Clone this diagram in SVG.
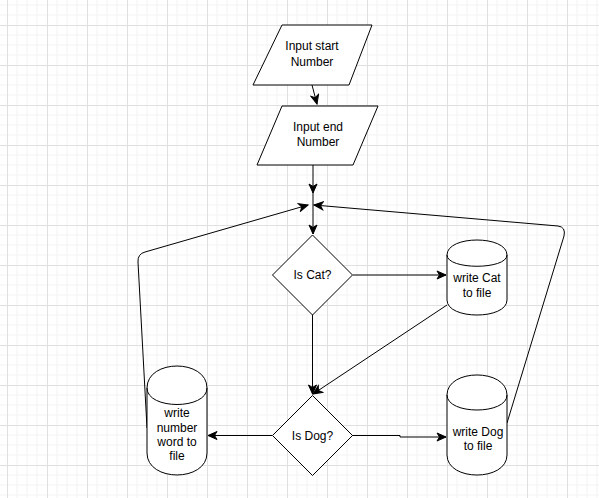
<svg xmlns="http://www.w3.org/2000/svg" width="599" height="498" viewBox="0 0 599 498">
<defs>
<pattern id="grid" x="7" y="25" width="40" height="40" patternUnits="userSpaceOnUse">
<path d="M10,0 V40 M20,0 V40 M30,0 V40 M0,10 H40 M0,20 H40 M0,30 H40" stroke="#f3f3f3" stroke-width="1" fill="none"/>
<path d="M0.5,0 V40 M0,0.5 H40" stroke="#e0e0e0" stroke-width="1" fill="none"/>
</pattern>
<marker id="arr" viewBox="-10 -5 11 10" refX="0" refY="0" markerWidth="11" markerHeight="10" markerUnits="userSpaceOnUse" orient="auto">
<path d="M0,0 L-9,-4 L-6.5,0 L-9,4 Z" fill="#000" stroke="#000" stroke-width="1"/>
</marker>
</defs>
<style>
.s{fill:#fff;stroke:#000;stroke-width:1}
.t{font-family:"Liberation Sans",Arial,sans-serif;font-size:12px;fill:#000;text-anchor:middle}
.c{fill:none;stroke:#000;stroke-width:1}
</style>
<rect width="599" height="498" fill="#fff"/>
<rect width="599" height="498" fill="url(#grid)"/>
<g id="connectors">
<path class="c" d="M312,85 L317,104" marker-end="url(#arr)"/>
<path class="c" d="M313,165 V193" marker-end="url(#arr)"/>
<path class="c" d="M313,193 V234" marker-end="url(#arr)"/>
<path class="c" d="M147,428 L138,262 Q137.5,254 145,252 L308,205" marker-end="url(#arr)"/>
<path class="c" d="M507,423 L564,236 Q566,227 558,226 L314,205" marker-end="url(#arr)"/>
<path class="c" d="M353,275 L446,275" marker-end="url(#arr)"/>
<path class="c" d="M312.5,315 L312.5,394" marker-end="url(#arr)"/>
<path class="c" d="M447,305 L313,394" marker-end="url(#arr)"/>
<path class="c" d="M272,435.5 L208,435.5" marker-end="url(#arr)"/>
<path class="c" d="M352,435.5 H400 V437 H446" marker-end="url(#arr)"/>
</g>
<g id="input-start">
<path class="s" d="M282,25 L372,25 L349,85 L253,85 Z"/>
<text class="t" x="312" y="50">Input start</text>
<text class="t" x="312" y="66">Number</text>
</g>
<g id="input-end">
<path class="s" d="M282,106 L378,106 L353,165 L257,165 Z"/>
<text class="t" x="318" y="131">Input end</text>
<text class="t" x="318" y="146">Number</text>
</g>
<g id="is-cat">
<path class="s" d="M312.5,235 L352.5,275 L312.5,315 L272.5,275 Z"/>
<text class="t" x="312.5" y="279">Is Cat?</text>
</g>
<g id="write-cat">
<path class="s" d="M447,255 C447,235 507,235 507,255 L507,300 C507,320 447,320 447,300 Z"/>
<path class="c" d="M447,255 C447,270 507,270 507,255"/>
<text class="t" x="477" y="282">write Cat</text>
<text class="t" x="477" y="297">to file</text>
</g>
<g id="is-dog">
<path class="s" d="M312.5,395.5 L352.5,435.5 L312.5,475.5 L272.5,435.5 Z"/>
<text class="t" x="312.5" y="440">Is Dog?</text>
</g>
<g id="write-dog">
<path class="s" d="M447,395 C447,368.3 507,368.3 507,395 L507,455 C507,481.7 447,481.7 447,455 Z"/>
<path class="c" d="M447,395 C447,415 507,415 507,395"/>
<text class="t" x="478" y="436">write Dog</text>
<text class="t" x="478" y="450">to file</text>
</g>
<g id="write-number">
<path class="s" d="M147,388 C147,358.7 207,358.7 207,388 L207,453 C207,482.3 147,482.3 147,453 Z"/>
<path class="c" d="M147,388 C147,410 207,410 207,388"/>
<text class="t" x="177" y="417">write</text>
<text class="t" x="177" y="432">number</text>
<text class="t" x="177" y="446">word to</text>
<text class="t" x="177" y="460">file</text>
</g>
</svg>
